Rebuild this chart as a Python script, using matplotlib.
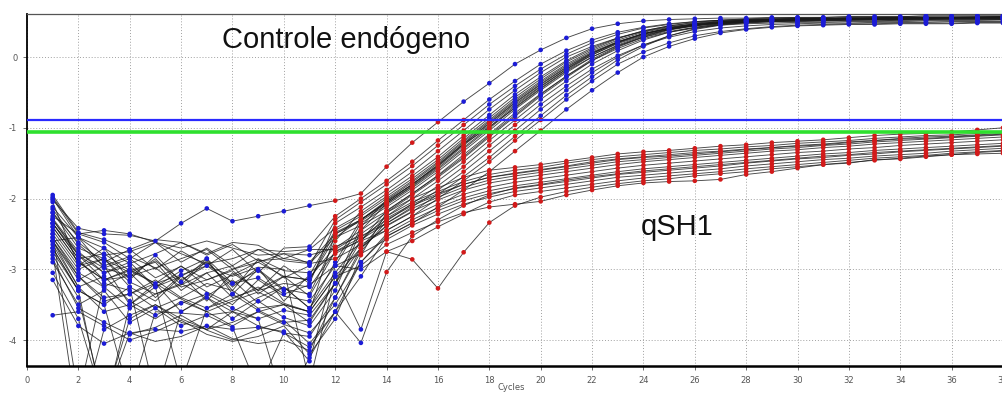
import matplotlib
matplotlib.use("Agg")
import matplotlib.pyplot as plt

plt.rcParams['axes.unicode_minus'] = False

cycles = list(range(1, 39))
threshold_blue = -0.89
threshold_green = -1.06
x_ticks = list(range(0, 39, 2))
y_ticks = [0, -1, -2, -3, -4]

controle = [
    [-2.02,-2.42,-2.5,-2.52,-2.6,-2.35,-2.14,-2.32,-2.25,-2.18,-2.1, -2.03,-1.93,-1.55,-1.21,-0.92,-0.63,-0.37,-0.10,0.10,0.27,0.40,0.47,0.51,0.53,0.54,0.55,0.55,0.56,0.56,0.56,0.57,0.57,0.57,0.58,0.58,0.58,0.58],
    [-2.2,-2.62,-2.9,-2.72,-3.0,-2.74,-2.95,-2.72,-3.05,-2.7,-2.68, -2.25,-2.0,-1.75,-1.48,-1.18,-0.89,-0.60,-0.34,-0.10,0.09,0.24,0.35,0.42,0.47,0.50,0.52,0.53,0.54,0.54,0.55,0.55,0.55,0.56,0.56,0.56,0.56,0.57],
    [-2.6,-2.55,-2.98,-3.1,-2.85,-3.22,-2.88,-3.3,-2.86,-3.12,-2.95, -2.3,-2.05,-1.8,-1.54,-1.25,-0.96,-0.67,-0.41,-0.17,0.04,0.2,0.32,0.41,0.46,0.5,0.52,0.53,0.54,0.54,0.55,0.55,0.55,0.56,0.56,0.56,0.56,0.57],
    [-2.35,-2.85,-3.25,-3.05,-3.4,-3.08,-3.45,-3.05,-3.3,-2.95,-3.2, -2.35,-2.12,-1.88,-1.62,-1.33,-1.04,-0.74,-0.47,-0.22,0.0,0.15,0.27,0.36,0.43,0.46,0.48,0.49,0.5,0.5,0.51,0.51,0.51,0.52,0.52,0.52,0.52,0.53],
    [-2.05,-2.95,-2.7,-3.15,-2.8,-3.18,-2.85,-3.35,-3.0,-3.28,-3.35, -2.6,-2.18,-1.93,-1.68,-1.41,-1.11,-0.82,-0.53,-0.28,-0.05,0.13,0.27,0.37,0.44,0.48,0.51,0.52,0.53,0.54,0.54,0.55,0.55,0.55,0.56,0.56,0.56,0.56],
    [-2.28,-2.75,-3.05,-2.9,-3.25,-3.1,-2.9,-3.25,-2.98,-3.45,-3.08, -2.45,-2.25,-2.0,-1.75,-1.48,-1.18,-0.89,-0.60,-0.34,-0.10,0.09,0.24,0.35,0.42,0.47,0.50,0.52,0.53,0.54,0.54,0.55,0.55,0.55,0.56,0.56,0.56,0.56],
    [-2.6,-3.15,-2.95,-3.5,-3.2,-3.6,-3.38,-3.15,-3.48,-3.25,-3.55, -2.9,-2.3,-2.05,-1.8,-1.52,-1.22,-0.93,-0.64,-0.38,-0.14,0.06,0.21,0.33,0.4,0.45,0.48,0.5,0.51,0.52,0.52,0.53,0.53,0.53,0.54,0.54,0.54,0.54],
    [-1.98,-2.5,-2.62,-2.85,-2.62,-2.9,-2.7,-2.95,-2.72,-2.75,-2.72, -2.42,-2.22,-1.97,-1.72,-1.45,-1.15,-0.86,-0.57,-0.31,-0.07,0.11,0.26,0.37,0.44,0.49,0.52,0.54,0.55,0.56,0.56,0.57,0.57,0.57,0.58,0.58,0.58,0.58],
    [-2.75,-3.3,-3.5,-3.25,-4.8,-3.6,-3.4,-3.7,-3.45,-3.68,-3.8, -3.3,-2.45,-2.07,-1.82,-1.55,-1.25,-0.96,-0.67,-0.41,-0.17,0.03,0.19,0.31,0.39,0.44,0.47,0.49,0.5,0.51,0.51,0.52,0.52,0.52,0.53,0.53,0.53,0.53],
    [-2.3,-2.8,-3.15,-3.02,-2.9,-3.3,-3.05,-2.95,-3.35,-3.1,-3.15, -2.55,-2.3,-2.03,-1.8,-1.54,-1.23,-0.99,-0.72,-0.45,-0.2,0.0,0.16,0.28,0.36,0.42,0.46,0.48,0.5,0.51,0.52,0.52,0.53,0.53,0.53,0.54,0.54,0.54],
    [-2.5,-3.0,-2.85,-3.25,-3.45,-3.1,-3.32,-3.5,-3.15,-3.38,-3.45, -2.95,-2.35,-2.12,-1.88,-1.62,-1.33,-1.04,-0.74,-0.47,-0.22,0.0,0.17,0.30,0.39,0.45,0.49,0.51,0.52,0.53,0.53,0.54,0.54,0.54,0.55,0.55,0.55,0.55],
    [-2.4,-2.9,-3.15,-3.0,-3.2,-2.95,-3.25,-3.08,-2.9,-3.1,-3.15, -2.48,-2.3,-2.07,-1.83,-1.57,-1.28,-0.99,-0.69,-0.42,-0.17,0.05,0.21,0.33,0.41,0.47,0.5,0.52,0.53,0.54,0.54,0.55,0.55,0.55,0.56,0.56,0.56,0.56],
    [-2.65,-3.25,-3.6,-3.5,-3.25,-4.6,-3.55,-3.35,-3.58,-3.75,-3.72, -3.2,-2.6,-2.17,-1.93,-1.67,-1.38,-1.09,-0.79,-0.52,-0.27,-0.05,0.12,0.26,0.35,0.41,0.45,0.47,0.48,0.49,0.49,0.5,0.5,0.5,0.51,0.51,0.51,0.51],
    [-2.15,-2.65,-2.95,-2.82,-2.98,-2.85,-2.72,-3.0,-2.9,-2.78,-2.92, -2.55,-2.38,-2.18,-1.93,-1.68,-1.41,-1.11,-0.82,-0.53,-0.27,-0.03,0.15,0.29,0.39,0.45,0.49,0.51,0.53,0.54,0.54,0.55,0.55,0.56,0.56,0.56,0.57,0.57],
    [-2.55,-3.05,-3.25,-3.55,-3.35,-3.2,-3.4,-3.6,-3.4,-3.25,-3.55, -3.05,-2.6,-2.25,-2.0,-1.75,-1.48,-1.18,-0.89,-0.60,-0.34,-0.10,0.09,0.24,0.35,0.42,0.47,0.50,0.52,0.53,0.54,0.54,0.55,0.55,0.55,0.56,0.56,0.56],
    [-2.8,-3.4,-4.9,-3.7,-3.5,-3.75,-3.85,-3.6,-3.8,-3.9,-3.95, -3.4,-2.75,-2.32,-2.07,-1.82,-1.55,-1.25,-0.96,-0.67,-0.41,-0.17,0.02,0.17,0.28,0.36,0.41,0.44,0.46,0.47,0.48,0.48,0.49,0.49,0.49,0.5,0.5,0.5],
    [-2.35,-2.8,-3.05,-2.95,-3.25,-3.02,-2.85,-3.2,-3.02,-3.3,-3.12, -2.68,-2.53,-2.35,-2.12,-1.88,-1.62,-1.33,-1.04,-0.74,-0.47,-0.22,0.0,0.17,0.30,0.39,0.45,0.49,0.51,0.52,0.53,0.53,0.54,0.54,0.54,0.55,0.55,0.55],
    [-2.6,-3.1,-3.45,-3.35,-3.15,-3.4,-3.55,-3.42,-3.25,-3.48,-3.6, -3.1,-2.7,-2.39,-2.19,-1.94,-1.69,-1.42,-1.12,-0.83,-0.54,-0.28,-0.04,0.15,0.3,0.4,0.46,0.5,0.52,0.53,0.54,0.54,0.55,0.55,0.55,0.56,0.56,0.56],
    [-2.45,-2.95,-2.85,-3.18,-3.35,-3.22,-3.05,-3.4,-3.28,-3.1,-3.38, -2.75,-2.6,-2.45,-2.25,-2.0,-1.75,-1.48,-1.18,-0.89,-0.60,-0.34,-0.10,0.07,0.2,0.3,0.36,0.4,0.43,0.45,0.46,0.47,0.47,0.48,0.48,0.48,0.49,0.49],
    [-2.9,-3.5,-3.3,-3.75,-3.55,-3.8,-3.65,-3.82,-4.7,-3.9,-4.1, -3.6,-2.9,-2.53,-2.35,-2.12,-1.88,-1.62,-1.33,-1.04,-0.74,-0.47,-0.22,0.0,0.15,0.26,0.34,0.39,0.42,0.44,0.45,0.46,0.46,0.47,0.47,0.47,0.48,0.48],
    [-2.0,-2.55,-2.7,-2.92,-2.78,-2.62,-2.8,-2.65,-2.88,-2.85,-2.9, -2.5,-2.3,-2.05,-1.8,-1.53,-1.23,-0.94,-0.65,-0.39,-0.15,0.05,0.21,0.33,0.41,0.46,0.49,0.51,0.52,0.53,0.53,0.54,0.54,0.54,0.55,0.55,0.55,0.55],
    [-2.7,-3.3,-5.0,-3.5,-3.7,-3.45,-3.6,-3.8,-3.6,-3.5,-3.75, -3.2,-2.4,-2.02,-1.77,-1.5,-1.2,-0.91,-0.62,-0.36,-0.12,0.07,0.22,0.33,0.4,0.45,0.48,0.5,0.51,0.52,0.52,0.53,0.53,0.53,0.54,0.54,0.54,0.54],
    [-3.65,-3.6,-3.8,-4.0,-3.88,-3.72,-3.92,-4.02,-3.95,-3.8,-4.2, -3.7,-2.8,-2.2,-1.95,-1.7,-1.43,-1.13,-0.84,-0.55,-0.29,-0.05,0.14,0.28,0.38,0.44,0.48,0.51,0.52,0.53,0.54,0.54,0.55,0.55,0.55,0.55,0.56,0.56],
    [-2.5,-4.8,-3.2,-3.3,-3.55,-3.4,-3.2,-3.3,-3.55,-3.5,-3.6, -2.5,-2.32,-2.09,-1.85,-1.59,-1.3,-1.01,-0.71,-0.44,-0.19,0.03,0.2,0.32,0.4,0.46,0.5,0.52,0.53,0.54,0.54,0.55,0.55,0.55,0.56,0.56,0.56,0.56],
]

qsh1 = [
    [-2.25,-2.5,-2.45,-2.5,-2.62,-2.7,-2.6,-2.7,-2.8,-2.78,-2.8, -2.7,-2.45,-2.2,-2.0,-1.85,-1.7,-1.6,-1.56,-1.52,-1.47,-1.42,-1.37,-1.34,-1.32,-1.29,-1.26,-1.24,-1.21,-1.19,-1.17,-1.14,-1.11,-1.09,-1.08,-1.06,-1.03,-1.0],
    [-2.4,-2.9,-3.15,-3.1,-2.98,-3.25,-3.15,-3.02,-3.3,-3.2,-3.25, -2.75,-2.55,-2.3,-2.1,-1.95,-1.8,-1.7,-1.65,-1.6,-1.55,-1.5,-1.45,-1.42,-1.4,-1.37,-1.34,-1.31,-1.28,-1.26,-1.24,-1.21,-1.18,-1.16,-1.15,-1.13,-1.11,-1.09],
    [-2.6,-3.25,-3.1,-3.45,-3.65,-3.48,-3.35,-3.55,-3.7,-3.58,-3.65, -3.2,-2.7,-2.38,-2.18,-2.02,-1.88,-1.78,-1.72,-1.67,-1.62,-1.57,-1.52,-1.48,-1.45,-1.42,-1.39,-1.36,-1.33,-1.31,-1.28,-1.26,-1.23,-1.21,-1.19,-1.17,-1.15,-1.13],
    [-2.12,-2.55,-2.8,-2.75,-2.62,-2.78,-2.92,-2.85,-2.72,-2.88,-2.92, -2.85,-2.65,-2.45,-2.25,-2.08,-1.94,-1.84,-1.77,-1.72,-1.67,-1.62,-1.57,-1.53,-1.5,-1.47,-1.44,-1.41,-1.38,-1.35,-1.33,-1.3,-1.28,-1.25,-1.23,-1.21,-1.19,-1.17],
    [-2.75,-5.2,-3.85,-3.65,-3.5,-3.7,-3.85,-3.75,-3.6,-3.78,-3.9, -3.5,-2.9,-2.5,-2.3,-2.13,-1.99,-1.89,-1.82,-1.77,-1.72,-1.67,-1.62,-1.58,-1.55,-1.52,-1.49,-1.46,-1.43,-1.4,-1.37,-1.35,-1.32,-1.3,-1.28,-1.26,-1.24,-1.22],
    [-2.35,-2.85,-2.78,-3.02,-3.2,-3.08,-2.95,-3.2,-3.12,-3.35,-3.22, -2.95,-2.78,-2.58,-2.38,-2.22,-2.08,-1.98,-1.9,-1.85,-1.8,-1.75,-1.7,-1.67,-1.64,-1.61,-1.58,-1.54,-1.51,-1.48,-1.45,-1.43,-1.4,-1.38,-1.36,-1.33,-1.31,-1.29],
    [-2.55,-3.1,-3.4,-3.35,-3.2,-3.42,-3.6,-3.45,-3.32,-3.5,-3.6, -3.1,-2.95,-2.65,-2.48,-2.33,-2.2,-2.12,-2.08,-2.04,-1.95,-1.88,-1.82,-1.78,-1.76,-1.75,-1.73,-1.66,-1.62,-1.57,-1.52,-1.5,-1.45,-1.44,-1.41,-1.38,-1.37,-1.36],
    [-1.95,-2.48,-2.58,-2.72,-2.58,-2.62,-2.78,-2.62,-2.66,-2.85,-2.72, -2.72,-2.5,-2.25,-2.05,-1.9,-1.76,-1.66,-1.6,-1.56,-1.5,-1.45,-1.41,-1.38,-1.35,-1.32,-1.3,-1.27,-1.25,-1.22,-1.2,-1.18,-1.15,-1.13,-1.11,-1.1,-1.08,-1.06],
    [-2.85,-3.55,-3.75,-3.92,-3.82,-3.65,-3.86,-4.0,-3.85,-3.72,-4.05, -3.6,-3.1,-2.54,-2.34,-2.17,-2.03,-1.93,-1.86,-1.81,-1.76,-1.71,-1.66,-1.63,-1.6,-1.57,-1.54,-1.5,-1.47,-1.44,-1.42,-1.39,-1.37,-1.34,-1.32,-1.3,-1.28,-1.26],
    [-2.3,-2.78,-2.98,-2.85,-3.12,-2.96,-3.15,-3.0,-2.85,-3.02,-3.05, -2.78,-2.58,-2.35,-2.14,-1.98,-1.84,-1.74,-1.68,-1.63,-1.58,-1.53,-1.48,-1.45,-1.42,-1.39,-1.36,-1.33,-1.3,-1.28,-1.25,-1.23,-1.2,-1.18,-1.16,-1.14,-1.12,-1.1],
    [-3.05,-3.7,-4.9,-3.9,-3.85,-3.88,-3.8,-3.85,-3.82,-3.88,-4.3, -2.95,-3.0,-2.75,-2.86,-3.27,-2.76,-2.34,-2.1,-1.98,-1.9,-1.84,-1.79,-1.75,-1.72,-1.68,-1.65,-1.62,-1.58,-1.55,-1.52,-1.49,-1.46,-1.43,-1.4,-1.38,-1.35,-1.33],
    [-2.7,-3.3,-3.5,-4.8,-3.6,-3.62,-3.65,-3.6,-3.7,-4.9,-4.25, -3.6,-4.04,-3.04,-2.53,-2.3,-2.1,-1.95,-1.85,-1.8,-1.74,-1.69,-1.65,-1.61,-1.58,-1.55,-1.52,-1.49,-1.46,-1.43,-1.4,-1.38,-1.35,-1.33,-1.31,-1.29,-1.27,-1.25],
    [-2.2,-2.7,-2.85,-3.05,-2.88,-3.15,-2.95,-3.1,-2.97,-3.0,-4.6, -3.1,-3.85,-2.75,-2.6,-2.4,-2.22,-2.05,-1.95,-1.9,-1.85,-1.8,-1.75,-1.71,-1.68,-1.65,-1.62,-1.58,-1.55,-1.52,-1.49,-1.46,-1.43,-1.41,-1.39,-1.36,-1.34,-1.32],
    [-3.15,-3.8,-4.05,-3.9,-4.02,-3.95,-3.8,-3.98,-4.05,-4.0,-4.15, -3.4,-2.7,-2.28,-2.08,-1.93,-1.8,-1.7,-1.64,-1.59,-1.54,-1.48,-1.44,-1.41,-1.38,-1.35,-1.33,-1.3,-1.28,-1.25,-1.23,-1.2,-1.18,-1.15,-1.13,-1.12,-1.1,-1.08],
]

# styling choices
green_curve = ("controle", 9)
mid_markers = {("controle", 0), ("controle", 4), ("controle", 8), ("controle", 12),
               ("controle", 16), ("controle", 19), ("qsh1", 2), ("qsh1", 5), ("qsh1", 10)}

BLUE = "#1c1cd6"
RED = "#d21a1a"
GREEN = "#2ee02e"
LINE = "#1a1a1a"

fig = plt.figure(figsize=(10.03, 3.96), dpi=100)
ax = fig.add_axes([27 / 1003, 30 / 396, 976 / 1003, 352 / 396])
ax.set_xlim(0, 37.95)
ax.set_ylim(-4.367, 0.608)

for gname, group in (("controle", controle), ("qsh1", qsh1)):
    for i, vals in enumerate(group):
        ax.plot(cycles, vals, color=LINE, lw=0.65, alpha=0.8, zorder=2)
        xs, ys, cs = [], [], []
        for c, v in zip(cycles, vals):
            if 5 <= c <= 10 and (gname, i) not in mid_markers:
                continue
            if v > threshold_blue or c <= 11 or (c <= 13 and v < -2.85):
                col = BLUE
            else:
                col = GREEN if (gname, i) == green_curve else RED
            xs.append(c); ys.append(v); cs.append(col)
        ax.scatter(xs, ys, s=11, c=cs, edgecolors='none', zorder=3)

ax.axhline(threshold_green, color=GREEN, lw=2.6, zorder=4)
ax.axhline(threshold_blue, color="#2a2aff", lw=1.6, zorder=5)

ax.set_xticks(x_ticks)
ax.set_yticks(y_ticks)
ax.set_xticklabels([str(t) for t in x_ticks])
ax.set_yticklabels([str(t) for t in y_ticks])
ax.tick_params(axis='both', labelsize=6, colors='#555555', length=3, width=0.6)
ax.tick_params(axis='x', pad=4)
ax.tick_params(axis='y', pad=4)
ax.grid(True, color='#a0a0a0', lw=0.7, linestyle=(0, (1, 2)))
ax.set_axisbelow(True)

ax.spines['right'].set_visible(False)
ax.spines['top'].set_color('#555555')
ax.spines['top'].set_linewidth(0.9)
ax.spines['left'].set_color('black')
ax.spines['left'].set_linewidth(1.3)
ax.spines['bottom'].set_color('black')
ax.spines['bottom'].set_linewidth(1.8)

ax.text(7.61, 0.123, "Controle endógeno", fontsize=21, family="Liberation Sans",
        ha='left', va='baseline', color='#111111', zorder=6)
ax.text(23.91, -2.516, "qSH1", fontsize=21, family="Liberation Sans",
        ha='left', va='baseline', color='#111111', zorder=6)

fig.text(511 / 1003, 4 / 396, "Cycles", fontsize=6, color='#555555', ha='center', va='bottom')

fig.savefig("out.png", dpi=100)
